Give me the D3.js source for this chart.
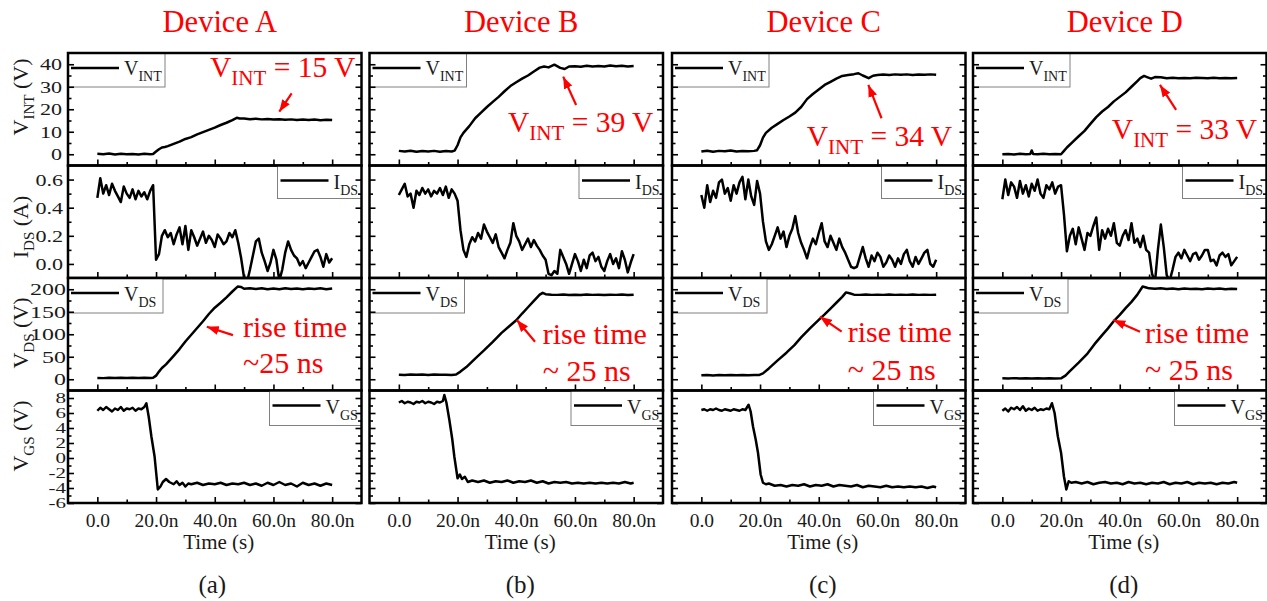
<!DOCTYPE html>
<html lang="en">
<head>
<meta charset="UTF-8">
<title>Turn-off waveforms, Devices A-D</title>
<script src="https://d3js.org/d3.v7.min.js"></script>
<style>
    body { margin: 0; background: #fff; }
    svg { display: block; }
    .frame { fill: none; stroke: #000; stroke-width: 2.5px; }
    .trace { fill: none; stroke: #000; stroke-width: 2.5px; stroke-linejoin: round; }
    .tick line { stroke: #000; stroke-width: 1.6px; }
    .legend-box { fill: #fff; stroke: #808080; stroke-width: 1px; }
    .note { fill: #ff0000; }
    .arrow { stroke: #ff0000; stroke-width: 2.2px; }
</style>
</head>
<body>
<svg width="1267" height="601"></svg>
<script>
// ---- data (time in ns) ----
const devices = ["Device A", "Device B", "Device C", "Device D"];
const subLetters = ["(a)", "(b)", "(c)", "(d)"];
const timeTicks = [0, 20, 40, 60, 80];
const timeMinor = [10, 30, 50, 70];
const timeLabels = ["0.0", "20.0n", "40.0n", "60.0n", "80.0n"];
const vintLevels = ["15", "39", "34", "33"];
const riseLabels = ["~25 ns", "~ 25 ns", "~ 25 ns", "~ 25 ns"];

const vintTicks = [0, 10, 20, 30, 40], vintMinor = [5, 15, 25, 35];
const idsTicks = [0, 0.2, 0.4, 0.6], idsMinor = [0.1, 0.3, 0.5];
const vdsTicks = [0, 50, 100, 150, 200], vdsMinor = [25, 75, 125, 175];
const vgsTicks = [-6, -4, -2, 0, 2, 4, 6, 8], vgsMinor = [-5, -3, -1, 1, 3, 5, 7];

// V_INT [t, V]
const vintA = [[0,0.2],[2,0],[4,0.3],[6,-0.1],[8,0.2],[10,0],[12,0.1],[14,-0.1],[16,0.2],[18,0],[19,0.1],[20,1.2],[21,2.2],[22,3],[23,3.2],[24,3.6],[26,4.6],[28,5.6],[30,6.8],[32,7.6],[34,8.8],[36,9.8],[38,10.8],[40,11.8],[42,13],[44,14],[46,15.2],[47.5,16.2],[48.5,15.9],[50,15.9],[52,15.6],[54,15.8],[56,15.5],[58,15.7],[60,15.4],[62,15.6],[64,15.3],[66,15.5],[68,15.2],[70,15.4],[72,15.2],[74,15.4],[76,15.1],[78,15.3],[80,15.2]];
const vintB = [[0,1.5],[2,1.2],[4,1.6],[6,1.1],[8,1.4],[10,1.2],[12,1.5],[14,1.1],[16,1.4],[18,1.2],[19,1.6],[20,4],[21,7.5],[22,9.5],[24,12.5],[26,16],[28,18.5],[30,21],[32,23.3],[34,25.5],[36,28],[38,30.3],[40,32],[42,33.6],[44,35],[46,36.8],[48,38.5],[49.5,39],[51,38.6],[53,39.8],[55,38.4],[56.5,37.9],[58,39],[60,39.1],[62,38.9],[64,39.3],[66,39],[68,39.2],[70,39],[72,39.4],[74,39.1],[76,39.3],[78,39],[80,39.2]];
const vintC = [[0,1.2],[2,1.6],[4,1.1],[6,1.5],[8,1.3],[10,1.7],[12,1.2],[14,1.4],[16,1.3],[18,1.5],[19,1.8],[20,4],[21,7.4],[22,9.5],[24,11.8],[26,13.5],[28,15.2],[30,16.8],[32,18.5],[34,21],[36,24.5],[38,26.8],[40,28.8],[42,30.8],[44,32.2],[46,33.6],[48,34.8],[50,35.2],[52,35.6],[53.5,36],[55,35],[57,33.8],[58.5,34.9],[60,35.2],[62,35.4],[64,35.2],[66,35.5],[68,35.3],[70,35.5],[72,35.2],[74,35.4],[76,35.3],[78,35.5],[80,35.3]];
const vintD = [[0,0],[2,0.1],[4,-0.1],[6,0.2],[8,0],[9.5,0.1],[10,1.7],[10.5,0.1],[12,0],[14,0.2],[16,0],[18,0.1],[20,0],[21,1.5],[22,3],[24,5.5],[26,8],[28,10.4],[30,13.5],[32,16.5],[34,19],[36,21],[38,23.5],[40,25.5],[42,27.5],[44,30],[46,32.5],[47,33.8],[48.3,34.8],[49.5,34.2],[50.7,33.6],[52,34.3],[54,34.2],[56,33.8],[58,34],[60,33.8],[62,33.9],[64,33.8],[66,34],[68,33.9],[70,33.8],[72,34],[74,33.8],[76,33.9],[78,33.8],[80,33.9]];

// I_DS, one sample per ns from 0 to 80 ns
const idsStep = 1;
const idsA = [0.47,0.61,0.5,0.56,0.49,0.57,0.52,0.48,0.44,0.55,0.5,0.47,0.53,0.46,0.52,0.48,0.51,0.46,0.52,0.56,0.03,0.07,0.2,0.24,0.19,0.22,0.14,0.21,0.26,0.14,0.27,0.1,0.24,0.19,0.13,0.18,0.23,0.15,0.2,0.17,0.12,0.21,0.18,0.14,0.16,0.22,0.19,0.24,0.15,0.04,-0.1,-0.13,-0.04,0.06,0.16,0.18,0.08,0.02,-0.05,0.01,0.1,0.03,-0.12,-0.04,0.08,0.16,0.1,0.06,0.04,-0.01,0.02,-0.03,0.01,0.05,0.09,0.1,0.05,-0.02,0.07,0.01,0.04];
const idsB = [0.49,0.53,0.57,0.48,0.5,0.4,0.52,0.49,0.54,0.5,0.53,0.48,0.52,0.5,0.54,0.49,0.55,0.47,0.53,0.5,0.45,0.24,0.1,0.05,0.14,0.19,0.16,0.22,0.18,0.28,0.23,0.19,0.15,0.21,0.12,0.08,0.04,0.1,0.15,0.29,0.2,0.16,0.1,0.14,0.18,0.12,0.17,0.13,0.1,0.06,0.03,-0.07,-0.08,-0.05,-0.07,0.1,0.05,0,-0.07,0,0.07,0.02,-0.05,0.03,-0.03,0.06,0.08,0.02,0.05,-0.02,-0.05,0.02,0.07,0,0.04,-0.03,0.09,0.03,-0.06,0.01,0.07];
const idsC = [0.49,0.4,0.56,0.44,0.52,0.47,0.58,0.6,0.5,0.54,0.45,0.56,0.5,0.58,0.62,0.46,0.6,0.48,0.42,0.59,0.5,0.3,0.16,0.1,0.14,0.2,0.26,0.18,0.23,0.12,0.2,0.25,0.34,0.22,0.15,0.1,0.04,0.12,0.18,0.14,0.22,0.29,0.16,0.12,0.2,0.15,0.1,0.18,0.12,0.08,0.03,-0.02,-0.03,-0.02,0.05,0.12,0.04,-0.02,0.06,0.02,0.08,0.05,-0.02,0.01,0.06,0.03,-0.02,0.04,0,0.07,0.1,0.02,-0.02,0.05,0,0.04,0.08,0.1,0,-0.02,0.03];
const idsD = [0.46,0.6,0.49,0.58,0.55,0.47,0.59,0.5,0.56,0.48,0.57,0.52,0.6,0.5,0.47,0.56,0.53,0.58,0.5,0.55,0.56,0.35,0.09,0.2,0.25,0.14,0.26,0.18,0.1,0.22,0.2,0.27,0.33,0.1,0.24,0.18,0.25,0.2,0.29,0.15,0.13,0.2,0.24,0.17,0.29,0.15,0.18,0.12,0.2,0.1,0.08,-0.07,-0.13,0.1,0.28,0.12,-0.08,-0.12,-0.04,0.05,0.08,0.04,0.1,0.06,0.02,0.07,0.08,0.03,0.06,0.1,0.1,0.02,0.03,-0.01,0.06,0.08,0.05,0.07,-0.01,0.02,0.05];

// V_DS [t, V]
const vdsA = [[0,3],[2,2.5],[4,3.5],[6,2.8],[8,3.2],[10,2.6],[12,3.4],[14,2.9],[16,3.3],[18,2.8],[19,3.5],[20,8],[21,17],[22,25],[23.4,33],[26,52],[28,67],[30,84],[32,99],[34,114],[36,129],[38,145],[40,159],[42,170],[44,182],[46,195],[47.8,206],[49,205],[50,201],[52,202],[54,200.5],[56,202],[58,200],[60,201.5],[62,200],[64,202],[66,200.5],[68,201.5],[70,200],[72,201.5],[74,200.5],[76,202],[78,200],[80,201.5]];
const vdsB = [[0,10],[2,9.5],[4,10.5],[6,9.8],[8,10.3],[10,9.6],[12,10.4],[14,9.9],[16,10.2],[18,9.7],[19.5,10.5],[21,17],[23,27],[26,46],[29,64],[32,83],[35,103],[38,120],[40,131],[42,146],[44,160],[46,174],[48,188],[49,192],[50,189],[52,188],[54,187.5],[56,188.5],[58,187],[60,188],[62,187],[64,188.5],[66,187.5],[68,188],[70,187],[72,188],[74,187.5],[76,188.5],[78,187],[80,188]];
const vdsC = [[0,9],[2,9.5],[4,8.6],[6,9.3],[8,8.8],[10,9.4],[12,8.9],[14,9.5],[16,8.7],[18,9.2],[19.8,9.6],[21,13],[23,24],[26,42],[29,59],[31.7,76],[34,93],[37,113],[40,132],[42,144],[44,157],[46,170],[48,183],[49.3,193],[50.5,191],[52,188],[54,187.5],[56,188.5],[58,187.5],[60,188],[62,187.5],[64,188.5],[66,187.5],[68,188],[70,187.5],[72,188.5],[74,187.5],[76,188],[78,187.5],[80,188]];
const vdsD = [[0,2],[2,1.5],[4,2.5],[6,1.8],[8,2.3],[10,1.6],[12,2.4],[14,1.9],[16,2.2],[18,1.7],[20.1,2.4],[21.5,8],[23,18],[26,37],[29,57],[31.4,78],[34,98],[36,113],[38.2,131],[40,143],[42,158],[44,172],[46,188],[47.8,206],[49,204],[50,202],[52,201],[54,202],[56,200.5],[58,201.5],[60,200],[62,201.5],[64,200.5],[66,201],[68,200],[70,201.5],[72,200.5],[74,201.5],[76,200],[78,201],[80,200.5]];

// V_GS [t, V]
const vgsA = [[0,6.3],[1,6.7],[2,6.4],[3,6.8],[4,6.5],[5,6.2],[6,6.6],[7,6.4],[8,6.8],[9,6.3],[10,6.6],[11,6.5],[12,6.7],[13,6.3],[14,6.6],[15,6.5],[16,6.8],[16.7,7.3],[17.5,5.5],[18.4,2.9],[19.5,0.2],[20.6,-4.2],[21.5,-3.8],[22.3,-3.2],[23.4,-2.8],[24.5,-3.2],[26,-3.5],[27,-3.1],[28,-3.6],[29,-3.3],[30,-3.8],[31,-3.4],[32,-3.5],[34,-3.3],[36,-3.6],[38,-3.4],[40,-3.5],[42,-3.3],[44,-3.6],[46,-3.4],[48,-3.5],[50,-3.3],[52,-3.6],[54,-3.4],[56,-3.7],[58,-3.3],[60,-3.6],[62,-3.2],[64,-3.6],[66,-3.4],[68,-3.8],[70,-3.3],[72,-3.6],[74,-3.4],[76,-3.7],[78,-3.4],[80,-3.6]];
const vgsB = [[0,7.4],[1,7.6],[2,7.3],[3,7.5],[4,7.4],[5,7.2],[6,7.5],[7,7.4],[8,7.6],[9,7.3],[10,7.5],[11,7.4],[12,7.2],[13,7.5],[14,7.4],[15,7.6],[15.5,8.4],[16.2,7.4],[17.2,5.1],[18.2,2.5],[18.9,0.2],[20,-2.7],[20.8,-2.2],[21.5,-2.8],[22.5,-2.5],[23.5,-3.2],[25,-3],[27,-3.2],[29,-3],[31,-3.3],[33,-3.1],[35,-3.2],[37,-3],[39,-3.3],[41,-3.1],[43,-3.2],[45,-3],[47,-3.3],[49,-3.1],[51,-3.4],[53,-3.2],[55,-3.3],[57,-3.2],[59,-3.4],[61,-3.3],[63,-3.4],[65,-3.3],[67,-3.4],[69,-3.3],[71,-3.4],[73,-3.3],[75,-3.4],[77,-3.2],[79,-3.4],[80,-3.3]];
const vgsC = [[0,6.4],[1,6.5],[2,6.3],[3,6.5],[4,6.4],[5,6.6],[6,6.4],[7,6.3],[8,6.5],[9,6.4],[10,6.3],[11,6.5],[12,6.4],[13,6.3],[14,6.5],[15,6.4],[16.1,7.1],[16.8,6.2],[17.6,4.2],[18.5,2.5],[19.3,0.7],[20.2,-2.2],[21,-3.3],[22,-3.5],[23,-3.4],[25,-3.7],[27,-3.6],[29,-3.8],[31,-3.6],[33,-3.7],[35,-3.5],[37,-3.8],[39,-3.6],[41,-3.7],[43,-3.5],[45,-3.8],[47,-3.6],[49,-3.7],[51,-3.8],[53,-3.6],[55,-3.9],[57,-3.7],[59,-3.8],[61,-3.9],[63,-3.7],[65,-3.9],[67,-3.8],[69,-3.9],[71,-3.8],[73,-3.9],[75,-3.8],[77,-4],[79,-3.8],[80,-3.9]];
const vgsD = [[0,6.3],[1,6.6],[2,6.2],[3,6.7],[4,6.5],[5,6.8],[6,6.4],[7,6.9],[8,6.3],[9,6.6],[10,6.4],[11,6.7],[12,6.3],[13,6.5],[14,6.4],[15,6.6],[16,6.5],[16.9,7.3],[17.8,6],[18.9,2.9],[20,0.7],[21,-2.5],[21.8,-4.2],[22.6,-3.1],[23.5,-3.3],[25,-3.2],[27,-3.4],[29,-3.2],[31,-3.5],[33,-3.3],[35,-3.2],[37,-3.4],[39,-3.3],[41,-3.5],[43,-3.2],[45,-3.4],[47,-3.3],[49,-3.5],[51,-3.3],[53,-3.4],[55,-3.2],[57,-3.5],[59,-3.3],[61,-3.4],[63,-3.2],[65,-3.5],[67,-3.3],[69,-3.4],[71,-3.3],[73,-3.5],[75,-3.3],[77,-3.4],[79,-3.2],[80,-3.3]];

const toPairs = vals => vals.map((v, k) => [k * idsStep, v]);

// ---- layout ----
const svg = d3.select("svg");
const frameLeft = [68, 369.5, 672, 973];
const frameW = 293.5, plotTop = 53, panelH = 112.5;
const letterShift = [-2.5, 4, 4, 4];

const panels = [
    { sym: "V", sub: "INT", unit: "(V)", domain: [-5, 45], major: vintTicks, minor: vintMinor,
      series: [vintA, vintB, vintC, vintD], fmt: d => String(d),
      legend: { side: "left", w: 97, h: 34, ty: 22 }, title: { cy: 97 }, lab: { gap: 6, fs: 17, sx: 1.3 } },
    { sym: "I", sub: "DS", unit: "(A)", domain: [-0.1, 0.7], major: idsTicks, minor: idsMinor,
      series: [idsA, idsB, idsC, idsD].map(toPairs), fmt: d3.format(".1f"),
      legend: { side: "right", w: 84, h: 33, ty: 23 }, title: { cy: 227 }, lab: { gap: 5, fs: 17, sx: 1.3 } },
    { sym: "V", sub: "DS", unit: "(V)", domain: [-25, 225], major: vdsTicks, minor: vdsMinor,
      series: [vdsA, vdsB, vdsC, vdsD], fmt: d => String(d),
      legend: { side: "left", w: 95, h: 35, ty: 23 }, title: { cy: 333 }, lab: { gap: 2, fs: 16.5, sx: 1.45 } },
    { sym: "V", sub: "GS", unit: "(V)", domain: [-6, 9], major: vgsTicks, minor: vgsMinor,
      series: [vgsA, vgsB, vgsC, vgsD], fmt: d => String(d),
      legend: { side: "right", w: 92, h: 35, ty: 23 }, title: { cy: 436 }, lab: { gap: 2, fs: 15, sx: 1.4 } }
];

// annotation anchors in data units: [labelT, labelV, tailT, tailV, headT, headV]
const vintNotes = [
    [38.4, 34.3, 66.2, 27.1, 62.0, 18.9],
    [37.2, 10.0, 60.4, 21.9, 56.0, 34.5],
    [35.9, 3.7, 61.4, 16.0, 56.9, 30.8],
    [37.3, 6.6, 59.2, 19.7, 53.7, 30.8]
];
// [labelT, line1V, line2V, tailT, tailV, headT, headV]
const riseNotes = [
    [49.6, 94.6, 13.9, 46.2, 98, 37.3, 116.8],
    [49.0, 78.3, -3.2, 46.4, 83.4, 40.2, 131.7],
    [49.9, 83.4, -1.7, 47.8, 105.7, 40.4, 139],
    [48.6, 79.9, -1.7, 46.9, 105.7, 37.8, 131.7]
];

const defs = svg.append("defs");
defs.append("marker")
    .attr("id", "head")
    .attr("viewBox", "0 0 12 9")
    .attr("refX", 12).attr("refY", 4.5)
    .attr("markerWidth", 12).attr("markerHeight", 9)
    .attr("markerUnits", "userSpaceOnUse")
    .attr("orient", "auto")
    .append("path").attr("d", "M0,0L12,4.5L0,9Z").attr("fill", "#ff0000");

function subText(sel, sym, sub, rest, fs, subFs, shift) {
    sel.text(sym);
    sel.append("tspan").attr("font-size", subFs).attr("dy", shift).text(sub);
    if (rest) sel.append("tspan").attr("font-size", fs).attr("dy", -shift).text(rest);
}

function arrow(g, x, y, t0, v0, t1, v1) {
    g.append("line").attr("class", "arrow")
        .attr("x1", x(t0)).attr("y1", y(v0))
        .attr("x2", x(t1)).attr("y2", y(v1))
        .attr("marker-end", "url(#head)");
}

devices.forEach((name, i) => {
    const left = frameLeft[i];
    const cx = left + frameW / 2 + 4;
    const x = d3.scaleLinear().domain([-10, 90]).range([left, left + frameW]);
    const g = svg.append("g");

    g.append("text").attr("x", cx + 1).attr("y", 32).attr("text-anchor", "middle")
        .attr("font-size", 30.5).attr("fill", "#ff0000").text(name);

    panels.forEach((p, j) => {
        const y0 = plotTop + j * panelH;
        const y = d3.scaleLinear().domain(p.domain).range([y0 + panelH, y0]);
        const clipId = `clip-${i}-${j}`;
        defs.append("clipPath").attr("id", clipId)
            .append("rect").attr("x", left).attr("y", y0).attr("width", frameW).attr("height", panelH);

        g.append("path").attr("class", "trace").attr("clip-path", `url(#${clipId})`)
            .attr("d", d3.line().x(d => x(d[0])).y(d => y(d[1]))(p.series[i]));

        // legend
        const lx = p.legend.side === "left" ? left : left + frameW - p.legend.w;
        const lg = g.append("g").attr("transform", `translate(${lx},${y0})`);
        lg.append("rect").attr("class", "legend-box").attr("width", p.legend.w).attr("height", p.legend.h);
        lg.append("line").attr("x1", 3).attr("x2", 51).attr("y1", 15).attr("y2", 15)
            .attr("stroke", "#000").attr("stroke-width", 2.5);
        subText(lg.append("text").attr("x", 56).attr("y", p.legend.ty).attr("font-size", 20).attr("fill", "#1a1a1a"),
            p.sym, p.sub, null, 20, 14, 6);

        // x ticks (inward, on the bottom of each panel)
        const xb = g.append("g").attr("transform", `translate(0,${y0 + panelH})`)
            .call(d3.axisBottom(x).tickValues(timeTicks).tickSizeInner(-6).tickSizeOuter(0).tickPadding(10)
                .tickFormat((d, k) => j === 3 ? timeLabels[k] : ""));
        const xm = g.append("g").attr("transform", `translate(0,${y0 + panelH})`)
            .call(d3.axisBottom(x).tickValues(timeMinor).tickSizeInner(-3.5).tickSizeOuter(0).tickFormat(""));
        [xb, xm].forEach(a => { a.select(".domain").remove(); a.attr("font-size", null); });
        xb.selectAll("text").attr("font-size", 19.5).attr("fill", "#1a1a1a");

        // y ticks on both sides
        const yl = g.append("g").attr("transform", `translate(${left},0)`)
            .call(d3.axisLeft(y).tickValues(p.major).tickSizeInner(-6).tickSizeOuter(0).tickPadding(0)
                .tickFormat(i === 0 ? p.fmt : ""));
        const ylm = g.append("g").attr("transform", `translate(${left},0)`)
            .call(d3.axisLeft(y).tickValues(p.minor).tickSizeInner(-3.5).tickSizeOuter(0).tickFormat(""));
        const yr = g.append("g").attr("transform", `translate(${left + frameW},0)`)
            .call(d3.axisRight(y).tickValues(p.major).tickSizeInner(-6).tickSizeOuter(0).tickFormat(""));
        const yrm = g.append("g").attr("transform", `translate(${left + frameW},0)`)
            .call(d3.axisRight(y).tickValues(p.minor).tickSizeInner(-3.5).tickSizeOuter(0).tickFormat(""));
        [yl, ylm, yr, yrm].forEach(a => { a.select(".domain").remove(); a.attr("font-size", null); });
        yl.selectAll("text")
            .attr("x", 0)
            .attr("font-size", p.lab.fs)
            .attr("fill", "#1a1a1a")
            .attr("transform", `translate(${-p.lab.gap},0) scale(${p.lab.sx},1)`);

        if (i === 0) {
            subText(g.append("text")
                    .attr("transform", `translate(28,${p.title.cy}) rotate(-90)`)
                    .attr("text-anchor", "middle").attr("font-size", 22).attr("fill", "#1a1a1a"),
                p.sym, p.sub, " " + p.unit, 22, 15, 6);
        }

        g.append("rect").attr("class", "frame").attr("x", left).attr("y", y0)
            .attr("width", frameW).attr("height", panelH);

        if (j === 0) {
            const n = vintNotes[i];
            subText(g.append("text").attr("class", "note").attr("x", x(n[0])).attr("y", y(n[1])).attr("font-size", 29.5),
                "V", "INT", ` = ${vintLevels[i]} V`, 29.5, 21, 8);
            arrow(g, x, y, n[2], n[3], n[4], n[5]);
        }
        if (j === 2) {
            const n = riseNotes[i];
            g.append("text").attr("class", "note").attr("x", x(n[0])).attr("y", y(n[1]))
                .attr("font-size", 30).text("rise time");
            g.append("text").attr("class", "note").attr("x", x(n[0])).attr("y", y(n[2]))
                .attr("font-size", 30).text(riseLabels[i]);
            arrow(g, x, y, n[3], n[4], n[5], n[6]);
        }
    });

    g.append("text").attr("x", cx).attr("y", 549).attr("text-anchor", "middle")
        .attr("font-size", 21).attr("fill", "#1a1a1a").text("Time (s)");
    g.append("text").attr("x", left + frameW / 2 + letterShift[i]).attr("y", 593).attr("text-anchor", "middle")
        .attr("font-size", 25).attr("fill", "#1a1a1a").text(subLetters[i]);
});

// Times-like face on every text element
svg.selectAll("text").attr("font-family", "Liberation Serif");
</script>
</body>
</html>
